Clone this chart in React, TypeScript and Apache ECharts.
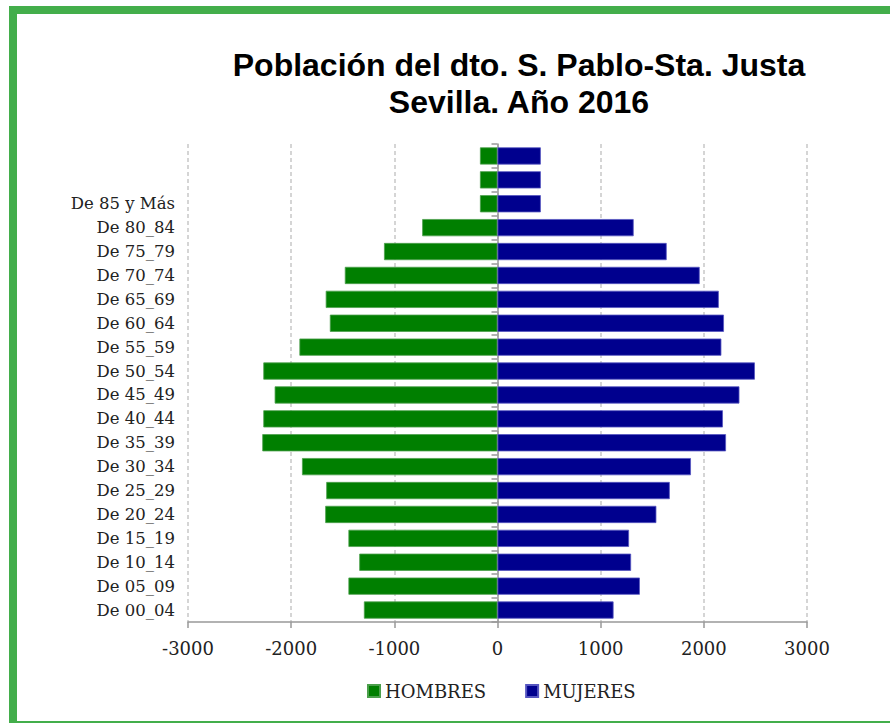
import React, { useEffect, useRef } from "react";
import * as echarts from "echarts";

const categories = [
  "De 00_04", "De 05_09", "De 10_14", "De 15_19", "De 20_24", "De 25_29",
  "De 30_34", "De 35_39", "De 40_44", "De 45_49", "De 50_54", "De 55_59",
  "De 60_64", "De 65_69", "De 70_74", "De 75_79", "De 80_84", "De 85 y Más", "", " ",
];
const hombres = [
  -1295, -1445, -1340, -1445, -1670, -1660, -1895, -2280, -2270, -2160, -2270, -1920,
  -1625, -1665, -1480, -1100, -730, -170, -170, -170,
];
const mujeres = [
  1125, 1380, 1295, 1275, 1540, 1670, 1875, 2215, 2185, 2345, 2495, 2170,
  2195, 2145, 1960, 1640, 1320, 420, 420, 420,
];
const xTicks = [-3000, 3000, 1000];

export default function App() {
  const ref = useRef<HTMLDivElement>(null);
  useEffect(() => {
    if (!ref.current) return;
    const chart = echarts.init(ref.current, null, { renderer: "svg" });
    const serif = "DejaVu Serif";
    const frame = "#43AE4B";
    chart.setOption({
      animation: false,
      backgroundColor: "#ffffff",
      title: {
        text: "Población del dto. S. Pablo-Sta. Justa\nSevilla. Año 2016",
        left: 514,
        top: 41,
        textAlign: "center",
        textStyle: {
          fontFamily: "Liberation Sans",
          fontWeight: "bold",
          fontSize: 32,
          lineHeight: 37,
          color: "#000",
        },
      },
      graphic: [
        { type: "rect", shape: { x: 9, y: 6, width: 8, height: 717 }, style: { fill: frame } },
        { type: "rect", shape: { x: 9, y: 6, width: 881, height: 8 }, style: { fill: frame } },
        { type: "rect", shape: { x: 9, y: 721, width: 881, height: 2 }, style: { fill: frame } },
      ],
      legend: {
        left: 362,
        top: 677,
        icon: "rect",
        itemWidth: 12,
        itemHeight: 12,
        itemGap: 39,
        textStyle: { fontFamily: serif, fontSize: 18, color: "#222" },
        data: ["HOMBRES", "MUJERES"],
      },
      grid: { left: 188, right: 83, top: 144, bottom: 101, containLabel: false },
      xAxis: {
        type: "value",
        min: xTicks[0],
        max: xTicks[1],
        interval: xTicks[2],
        axisLine: { show: true, lineStyle: { color: "#999", width: 1.5 } },
        axisTick: { show: true, length: 6, lineStyle: { color: "#999", width: 1.5 } },
        axisLabel: {
          fontFamily: serif,
          fontSize: 18,
          color: "#222",
          margin: 17,
          formatter: (v: number) => String(v),
        },
        splitLine: { show: true, lineStyle: { color: "#c8c8c8", type: [4, 3], width: 1.5 } },
      },
      yAxis: {
        type: "category",
        data: categories,
        axisLine: { show: true, lineStyle: { color: "#999", width: 1.5 } },
        axisTick: { show: true, length: 6, lineStyle: { color: "#999", width: 1.5 } },
        axisLabel: { fontFamily: serif, fontSize: 16.5, color: "#222", margin: 13 },
        splitLine: { show: false },
      },
      series: [
        {
          name: "HOMBRES",
          type: "bar",
          data: hombres,
          barCategoryGap: "28%",
          barGap: "-100%",
          itemStyle: { color: "#007F00", borderColor: "#4C9F4C", borderWidth: 0.8 },
        },
        {
          name: "MUJERES",
          type: "bar",
          data: mujeres,
          barCategoryGap: "28%",
          barGap: "-100%",
          itemStyle: { color: "#00008E", borderColor: "#5555C0", borderWidth: 0.8 },
        },
      ],
    });
    return () => chart.dispose();
  }, []);
  return (
    <div
      ref={ref}
      style={{ position: "fixed", left: 0, top: 0, width: 890, height: 723 }}
    />
  );
}
